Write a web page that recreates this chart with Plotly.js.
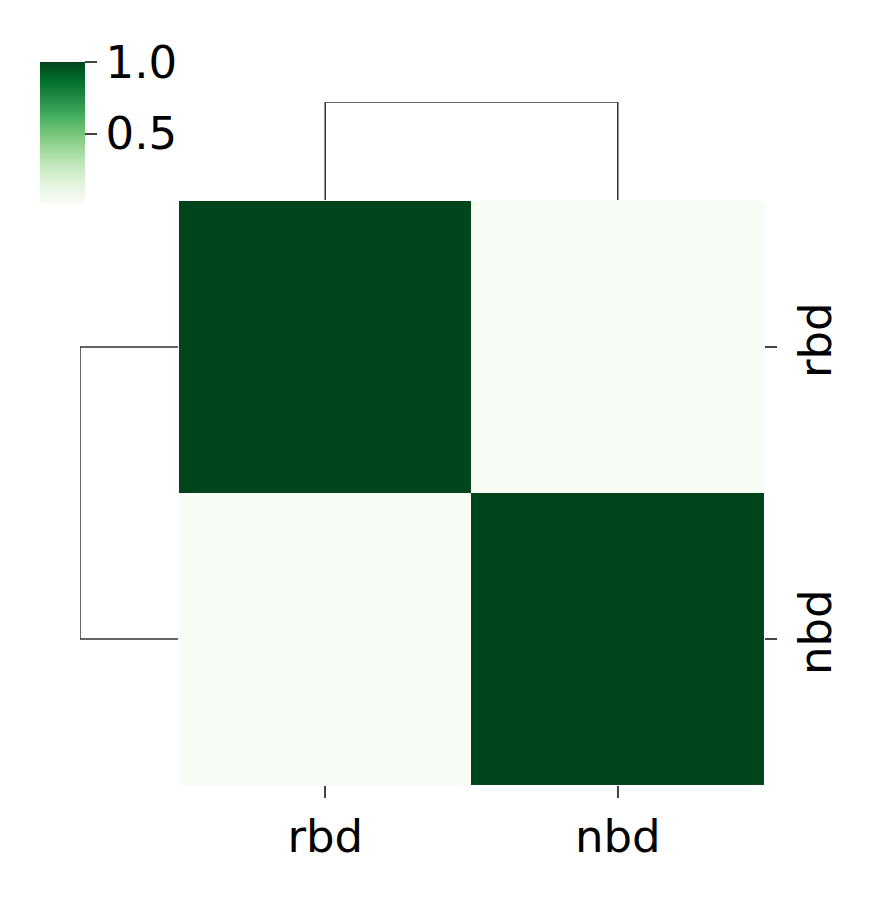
<!DOCTYPE html>
<html><head><meta charset="utf-8">
<script src="https://cdn.plot.ly/plotly-3.0.1.min.js"></script>
<style>body{margin:0}</style></head>
<body><div id="g" style="width:879px;height:902px"></div>
<script>
const labels = ["rbd", "nbd"];
const values = [[1.0, 0.01],[0.01, 1.0]];
const topDendroX = [0, 0, 1, 1];
const topDendroY = [0, 1, 1, 0];
const leftDendroX = [0, 1, 1, 0];
const leftDendroY = [0, 0, 1, 1];
const greens = ["#f7fcf5","#e5f5e0","#c7e9c0","#a1d99b","#74c476","#41ab5d","#238b45","#006d2c","#00441b"];
const cs = greens.map((c,i)=>[i/(greens.length-1), c]);
const F = "DejaVu Sans, sans-serif";
const traces = [
 {type:"heatmap", z:values, x:[0,1], y:[0,1], colorscale:cs, zmin:0.01, zmax:1,
  hoverinfo:"skip",
  colorbar:{x:0.034, xanchor:"left", y:0.942, yanchor:"top", len:0.178, lenmode:"fraction",
   thickness:45, outlinewidth:0, tickvals:[0.5,1.0], ticktext:["0.5","1.0"],
   ticks:"outside", ticklen:12, tickwidth:2, tickfont:{size:45,family:F,color:"#000"}}},
 {type:"scatter", mode:"lines", x:topDendroX, y:topDendroY, xaxis:"x2", yaxis:"y2",
  line:{color:"#333", width:1.5}, hoverinfo:"skip", showlegend:false},
 {type:"scatter", mode:"lines", x:leftDendroX, y:leftDendroY, xaxis:"x3", yaxis:"y3",
  line:{color:"#333", width:1.5}, hoverinfo:"skip", showlegend:false}
];
const layout = {
 width:879, height:902, margin:{l:0,r:0,t:0,b:0}, showlegend:false,
 paper_bgcolor:"#fff", plot_bgcolor:"#fff", font:{family:F},
 xaxis:{domain:[0.2036,0.8692], range:[-0.5,1.5], tickvals:[0,1], ticktext:labels,
  ticks:"outside", ticklen:12, tickwidth:2, tickfont:{size:45,color:"#000"},
  showgrid:false, zeroline:false, showline:false},
 yaxis:{domain:[0.1297,0.7772], range:[1.5,-0.5], tickvals:[0,1], ticktext:labels, side:"right",
  ticks:"outside", ticklen:12, tickwidth:2, tickangle:-90, tickfont:{size:45,color:"#000"},
  showgrid:false, zeroline:false, showline:false},
 xaxis2:{domain:[0.2036,0.8692], range:[-0.5,1.5], anchor:"y2", visible:false},
 yaxis2:{domain:[0.7783,0.8869], range:[0,1], anchor:"x2", visible:false},
 xaxis3:{domain:[0.091,0.2025], range:[1,0], anchor:"y3", visible:false},
 yaxis3:{domain:[0.1297,0.7772], range:[1.5,-0.5], anchor:"x3", visible:false}
};
Plotly.newPlot("g", traces, layout, {displayModeBar:false, staticPlot:true});
</script></body></html>
